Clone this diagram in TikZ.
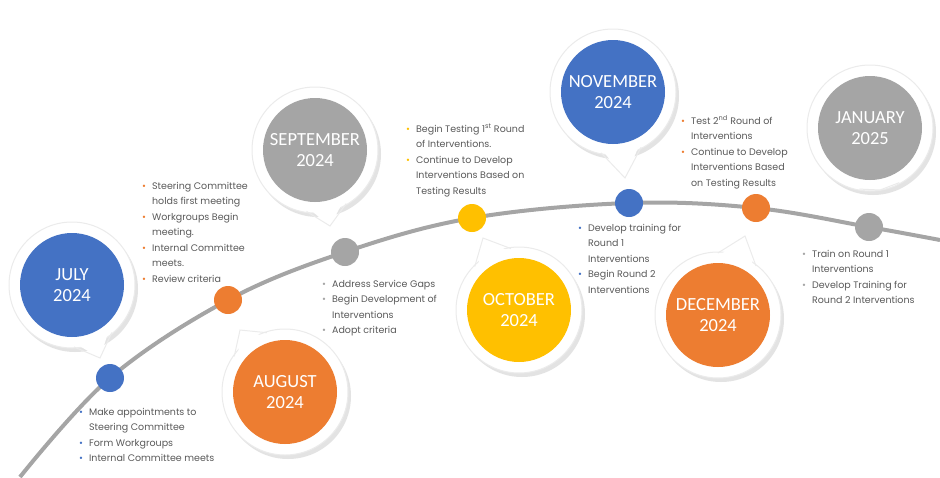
\documentclass[tikz,border=0pt]{standalone}
\usepackage{fontspec}
\setmainfont{Carlito}
\newfontfamily\bodyfont{Poppins}
\usetikzlibrary{calc, shadows}
\definecolor{cblue}{HTML}{4472C4}
\definecolor{corange}{HTML}{ED7D31}
\definecolor{cgray}{HTML}{A5A5A5}
\definecolor{cyellow}{HTML}{FFC000}
\definecolor{ctext}{HTML}{595959}
\tikzset{
  month/.style = {circle, minimum size=104pt, inner sep=0pt, text=white, align=center,
    font=\fontsize{18.5}{21}\selectfont},
  ring/.style = {fill=white, draw=black!8, line width=1pt,
    drop shadow={shadow xshift=3pt, shadow yshift=-4pt, opacity=0.18, fill=black!60}},
  dot/.style = {circle, minimum size=28pt, inner sep=0pt},
  info/.style = {anchor=north west, inner sep=0pt, text=ctext,
    font=\bodyfont\fontsize{9.5}{15.5}\selectfont}
}
\newcommand{\bul}[1]{{\color{#1}\textbullet}}
\begin{document}
\begin{tikzpicture}[x=1pt, y=-1pt]
  \useasboundingbox (0,0) rectangle (940,477);
  % Timeline
  \draw [cgray, line width=4pt] plot [smooth, tension=0.6] coordinates
    {(20,477) (110,378) (228,300) (345,252) (472,218) (629,203) (756,208) (869,227) (940,240)};
  % Bubbles
  \foreach \name/\cx/\cy/\col/\tx/\ty/\txt in {
      july/72/285/cblue/100/358/{JULY\\2024},
      august/285/392/corange/240/330/{AUGUST\\2024},
      september/315/150/cgray/330/226/{SEPTEMBER\\2024},
      october/519/310/cyellow/483/238/{OCTOBER\\2024},
      november/613/92/cblue/625/178/{NOVEMBER\\2024},
      december/718/315/corange/745/236/{DECEMBER\\2024},
      january/870/128/cgray/880/190/{JANUARY\\2025}} {
    \coordinate (\name c) at (\cx,\cy);
    \coordinate (\name tip) at (\tx,\ty);
    \path [ring] (\name c) circle (63pt);
    \fill [white] ($(\name c)!55pt!-24:(\name tip)$) -- (\name tip) -- ($(\name c)!55pt!24:(\name tip)$) -- cycle;
    \draw [black!8, line width=1pt] ($(\name c)!62pt!-19:(\name tip)$) -- (\name tip) -- ($(\name c)!62pt!19:(\name tip)$);
    \node [month, fill=\col] (\name) at (\name c) {\txt};
  }
  % Dots
  \node [dot, fill=cblue] (julydot) at (110,378) {};
  \node [dot, fill=corange] (augustdot) at (228,300) {};
  \node [dot, fill=cgray] (septemberdot) at (345,252) {};
  \node [dot, fill=cyellow] (octoberdot) at (472,218) {};
  \node [dot, fill=cblue] (novemberdot) at (629,203) {};
  \node [dot, fill=corange] (decemberdot) at (756,208) {};
  \node [dot, fill=cgray] (januarydot) at (869,227) {};
  % Info nodes
  \node [info] (julyinfo) at (79,404) {\begin{tabular}{@{}l@{\hspace{6pt}}l@{}}
    \bul{cblue} & Make appointments to\\ & Steering Committee\\
    \bul{cblue} & Form Workgroups\\ \bul{cblue} & Internal Committee meets\end{tabular}};
  \node [info] (augustinfo) at (142,178) {\begin{tabular}{@{}l@{\hspace{6pt}}l@{}}
    \bul{corange} & Steering Committee\\ & holds first meeting\\
    \bul{corange} & Workgroups Begin\\ & meeting.\\
    \bul{corange} & Internal Committee\\ & meets.\\ \bul{corange} & Review criteria\end{tabular}};
  \node [info] (septemberinfo) at (322,276) {\begin{tabular}{@{}l@{\hspace{6pt}}l@{}}
    \bul{cgray} & Address Service Gaps\\ \bul{cgray} & Begin Development of\\ & Interventions\\
    \bul{cgray} & Adopt criteria\end{tabular}};
  \node [info] (octoberinfo) at (406,121) {\begin{tabular}{@{}l@{\hspace{6pt}}l@{}}
    \bul{cyellow} & Begin Testing 1\textsuperscript{st} Round\\ & of Interventions.\\
    \bul{cyellow} & Continue to Develop\\ & Interventions Based on\\ & Testing Results\end{tabular}};
  \node [info] (novemberinfo) at (578,220) {\begin{tabular}{@{}l@{\hspace{6pt}}l@{}}
    \bul{cblue} & Develop training for\\ & Round 1\\ & Interventions\\
    \bul{cblue} & Begin Round 2\\ & Interventions\end{tabular}};
  \node [info] (decemberinfo) at (681,113) {\begin{tabular}{@{}l@{\hspace{6pt}}l@{}}
    \bul{corange} & Test 2\textsuperscript{nd} Round of\\ & Interventions\\
    \bul{corange} & Continue to Develop\\ & Interventions Based\\ & on Testing Results\end{tabular}};
  \node [info] (januaryinfo) at (802,246) {\begin{tabular}{@{}l@{\hspace{6pt}}l@{}}
    \bul{cgray} & Train on Round 1\\ & Interventions\\
    \bul{cgray} & Develop Training for\\ & Round 2 Interventions\end{tabular}};
\end{tikzpicture}
\end{document}
